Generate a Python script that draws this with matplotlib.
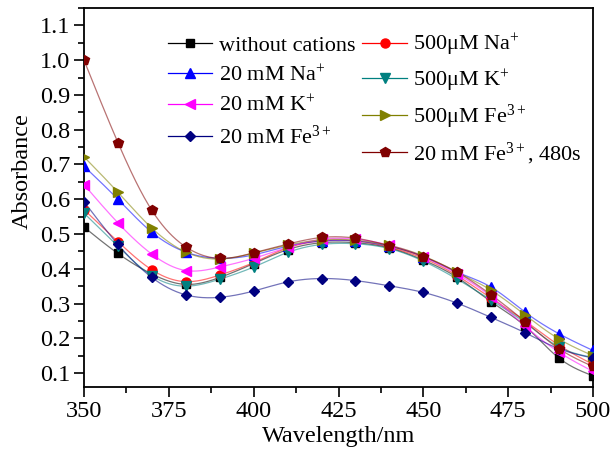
import numpy as np
import matplotlib
matplotlib.use("Agg")
import matplotlib.pyplot as plt
from matplotlib.ticker import MultipleLocator

plt.rcParams['font.family'] = ['Liberation Serif', 'DejaVu Serif']
plt.rcParams['mathtext.fontset'] = 'custom'
plt.rcParams['mathtext.rm'] = 'Liberation Serif'
plt.rcParams['mathtext.it'] = 'Liberation Serif:italic'

wavelength = [350, 360, 370, 380, 390, 400, 410, 420, 430, 440, 450, 460, 470, 480, 490, 500]

without_cations = [0.520, 0.444, 0.385, 0.355, 0.375, 0.415, 0.455, 0.475, 0.475, 0.460, 0.425, 0.375, 0.305, 0.235, 0.143, 0.092]
na_500uM = [0.570, 0.478, 0.397, 0.363, 0.382, 0.418, 0.460, 0.480, 0.480, 0.462, 0.430, 0.380, 0.315, 0.250, 0.180, 0.125]
na_20mM = [0.695, 0.600, 0.505, 0.448, 0.430, 0.440, 0.465, 0.480, 0.480, 0.465, 0.435, 0.390, 0.347, 0.275, 0.213, 0.165]
k_500uM = [0.560, 0.465, 0.380, 0.350, 0.370, 0.405, 0.447, 0.470, 0.472, 0.458, 0.422, 0.370, 0.310, 0.245, 0.175, 0.145]
k_20mM = [0.642, 0.532, 0.442, 0.395, 0.405, 0.430, 0.462, 0.485, 0.485, 0.468, 0.435, 0.385, 0.320, 0.235, 0.160, 0.105]
fe_500uM = [0.722, 0.620, 0.517, 0.448, 0.428, 0.445, 0.468, 0.483, 0.482, 0.467, 0.437, 0.390, 0.338, 0.267, 0.198, 0.150]
fe_20mM = [0.593, 0.470, 0.375, 0.325, 0.318, 0.336, 0.362, 0.372, 0.366, 0.351, 0.332, 0.301, 0.260, 0.216, 0.170, 0.143]
fe_20mM_480s = [1.000, 0.763, 0.568, 0.463, 0.430, 0.446, 0.471, 0.490, 0.488, 0.466, 0.435, 0.390, 0.325, 0.248, 0.170, 0.119]

labels = ["without cations", "500\u03bcM Na$^{+}$", "20 mM Na$^{+}$", "500\u03bcM K$^{+}$",
          "20 mM K$^{+}$", "500\u03bcM Fe$^{3+}$", "20 mM Fe$^{3+}$", "20 mM Fe$^{3+}$, 480s"]
series = [without_cations, na_500uM, na_20mM, k_500uM, k_20mM, fe_500uM, fe_20mM, fe_20mM_480s]
colors = ["#000000", "#FF0000", "#0000FF", "#008080", "#FF00FF", "#808000", "#000080", "#800000"]
markers = ["s", "o", "^", "v", "<", ">", "D", "p"]
msizes = [5.5, 6.5, 6.5, 6.5, 6.5, 6.5, 5.5, 7.5]


def natural_spline(x, y, xs):
    x = np.asarray(x, float)
    y = np.asarray(y, float)
    n = len(x)
    h = np.diff(x)
    A = np.zeros((n, n))
    b = np.zeros(n)
    A[0, 0] = 1
    A[-1, -1] = 1
    for i in range(1, n - 1):
        A[i, i - 1] = h[i - 1]
        A[i, i] = 2 * (h[i - 1] + h[i])
        A[i, i + 1] = h[i]
        b[i] = 3 * ((y[i + 1] - y[i]) / h[i] - (y[i] - y[i - 1]) / h[i - 1])
    c = np.linalg.solve(A, b)
    bb = (y[1:] - y[:-1]) / h - h * (2 * c[:-1] + c[1:]) / 3
    d = (c[1:] - c[:-1]) / (3 * h)
    idx = np.clip(np.searchsorted(x, xs) - 1, 0, n - 2)
    dx = xs - x[idx]
    return y[idx] + bb[idx] * dx + c[idx] * dx ** 2 + d[idx] * dx ** 3


fig = plt.figure(figsize=(6.15, 4.59), dpi=100)
ax = fig.add_axes([84 / 615, 72 / 459, (593 - 84) / 615, (387 - 8) / 459])

xs = np.linspace(350, 500, 600)
handles = []
for vals, lab, col, mk, ms in zip(series, labels, colors, markers, msizes):
    ax.plot(xs, natural_spline(wavelength, vals, xs), color=col, lw=0.9, alpha=0.55, zorder=2)
    ax.plot(wavelength, vals, linestyle='none', marker=mk, color=col, ms=ms, zorder=3)
    h, = ax.plot([], [], color=col, lw=0.9, marker=mk, ms=ms, markevery=[1])
    handles.append(h)

for h in handles:
    h.set_data([0, 0.5, 1], [0, 0, 0])

ax.set_xlim(350, 500)
ax.set_ylim(0.06, 1.15)
ax.xaxis.set_major_locator(MultipleLocator(25))
ax.xaxis.set_minor_locator(MultipleLocator(12.5))
ax.yaxis.set_major_locator(MultipleLocator(0.1))
ax.yaxis.set_minor_locator(MultipleLocator(0.05))
ax.yaxis.set_major_formatter(matplotlib.ticker.FormatStrFormatter('%.1f'))
ax.tick_params(which='both', direction='out', top=False, right=False, labelsize=17.5, width=1.2, pad=3)
ax.tick_params(which='major', length=7)
ax.tick_params(which='minor', length=4)
for sp in ax.spines.values():
    sp.set_linewidth(1.3)

ax.set_xlabel("Wavelength/nm", fontsize=17.5)
ax.set_ylabel("Absorbance", fontsize=17.5)
ax.xaxis.set_label_coords((338.8 - 84) / 509, -(436.7 - 387) / 379, transform=ax.transAxes)
ax.yaxis.set_label_coords(-(84 - 22) / 509, (387 - 171) / 379, transform=ax.transAxes)
ax.xaxis.label.set_va('center')
ax.yaxis.label.set_va('center')

order = [0, 2, 4, 6, 1, 3, 5, 7]
leg = ax.legend([handles[i] for i in order], [labels[i] for i in order], ncol=2,
                loc='upper left', bbox_to_anchor=(168 / 615, 1 - 32 / 459),
                bbox_transform=fig.transFigure, frameon=False, fontsize=16,
                handlelength=2.0, handletextpad=0.3, columnspacing=0.3,
                labelspacing=0.42, borderpad=0, borderaxespad=0)

fig.savefig("out.png", dpi=100)
